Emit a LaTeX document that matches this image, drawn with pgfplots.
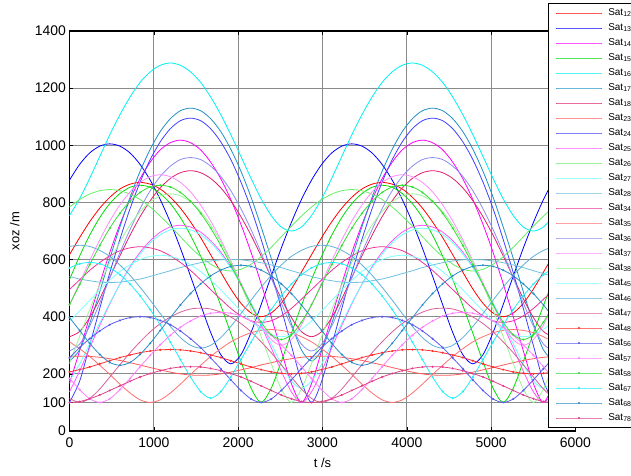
\documentclass[border=0pt]{standalone}
\usepackage{fontspec}
\setmainfont{Liberation Sans}
\usepackage{pgfplots}
\usepackage{pgfplotstable}
\pgfplotsset{compat=1.18}

\definecolor{gridgray}{HTML}{8A8A8A}
\definecolor{c12}{HTML}{FF0000}
\definecolor{c13}{HTML}{0000FF}
\definecolor{c14}{HTML}{FF00FF}
\definecolor{c15}{HTML}{00DD00}
\definecolor{c16}{HTML}{00F0F0}
\definecolor{c17}{HTML}{1E90C8}
\definecolor{c18}{HTML}{E0206E}
\definecolor{c23}{HTML}{FF5A5A}
\definecolor{c24}{HTML}{4040FF}
\definecolor{c25}{HTML}{FF55FF}
\definecolor{c26}{HTML}{66EE66}
\definecolor{c27}{HTML}{66FFFF}
\definecolor{c28}{HTML}{70C0E0}
\definecolor{c34}{HTML}{EE3399}
\definecolor{c35}{HTML}{FF7070}
\definecolor{c36}{HTML}{8C8CF0}
\definecolor{c37}{HTML}{FF8CFF}
\definecolor{c38}{HTML}{99F599}
\definecolor{c45}{HTML}{80FFFF}
\definecolor{c46}{HTML}{5EB0D8}
\definecolor{c47}{HTML}{D8609A}
\definecolor{c48}{HTML}{FF3030}
\definecolor{c56}{HTML}{5A5AF0}
\definecolor{c57}{HTML}{FF80FF}
\definecolor{c58}{HTML}{33DD33}
\definecolor{c67}{HTML}{22EEF8}
\definecolor{c68}{HTML}{2A8CC8}
\definecolor{c78}{HTML}{E0408C}

% one row per pair, one column per sample time (transposed below)
\pgfplotstableread{
name k0 k1 k2 k3 k4 k5 k6 k7 k8 k9 k10 k11 k12 k13 k14 k15 k16 k17 k18 k19 k20 k21 k22 k23 k24 k25 k26 k27 k28 k29 k30 k31 k32 k33 k34 k35 k36 k37 k38 k39 k40 k41 k42 k43 k44 k45 k46 k47 k48
t 0 120 239 359 478 598 718 837 957 1076 1196 1315 1435 1555 1674 1794 1913 2033 2153 2272 2392 2511 2631 2750 2870 2990 3109 3229 3348 3468 3588 3707 3827 3946 4066 4185 4305 4425 4544 4664 4783 4903 5023 5142 5262 5381 5501 5620 5740
s12 617 677 732 780 818 847 864 870 864 847 818 780 732 677 617 556 497 447 413 400 413 447 497 556 617 677 732 780 818 847 864 870 864 847 818 780 732 677 617 556 497 447 413 400 413 447 497 556 617
s13 878 933 973 997 1005 997 973 933 878 810 730 640 542 442 345 267 235 267 345 442 542 640 730 810 878 933 973 997 1005 997 973 933 878 810 730 640 542 442 345 267 235 267 345 442 542 640 730 810 878
s14 166 281 400 516 625 723 810 883 941 984 1009 1018 1009 984 941 883 810 723 625 516 400 281 166 100 166 281 400 516 625 723 810 883 941 984 1009 1018 1009 984 941 883 810 723 625 516 400 281 166 100 166
s15 530 612 685 747 796 831 853 860 853 831 796 747 685 612 530 439 342 243 150 100 150 243 342 439 530 612 685 747 796 831 853 860 853 831 796 747 685 612 530 439 342 243 150 100 150 243 342 439 530
s16 754 813 884 961 1037 1107 1169 1220 1257 1280 1288 1280 1257 1220 1169 1107 1037 961 884 813 754 714 700 714 754 813 884 961 1037 1107 1169 1220 1257 1280 1288 1280 1257 1220 1169 1107 1037 961 884 813 754 714 700 714 754
s17 245 284 376 488 604 715 818 909 986 1048 1093 1121 1130 1121 1093 1048 986 909 818 715 604 488 376 284 245 284 376 488 604 715 818 909 986 1048 1093 1121 1130 1121 1093 1048 986 909 818 715 604 488 376 284 245
s18 330 348 397 463 538 613 685 750 806 851 884 904 911 904 884 851 806 750 685 613 538 463 397 348 330 348 397 463 538 613 685 750 806 851 884 904 911 904 884 851 806 750 685 613 538 463 397 348 330
s23 261 262 261 258 253 247 239 231 222 214 206 200 196 195 196 200 206 214 222 231 239 247 253 258 261 262 261 258 253 247 239 231 222 214 206 200 196 195 196 200 206 214 222 231 239 247 253 258 261
s24 100 174 299 429 554 671 778 871 950 1012 1058 1086 1095 1086 1058 1012 950 871 778 671 554 429 299 174 100 174 299 429 554 671 778 871 950 1012 1058 1086 1095 1086 1058 1012 950 871 778 671 554 429 299 174 100
s25 137 210 291 370 445 514 575 626 666 696 714 720 714 696 666 626 575 514 445 370 291 210 137 100 137 210 291 370 445 514 575 626 666 696 714 720 714 696 666 626 575 514 445 370 291 210 137 100 137
s26 784 810 829 841 845 841 829 810 784 752 717 680 643 610 584 566 560 566 584 610 643 680 717 752 784 810 829 841 845 841 829 810 784 752 717 680 643 610 584 566 560 566 584 610 643 680 717 752 784
s27 175 234 305 378 448 513 571 619 659 687 704 710 704 687 659 619 571 513 448 378 305 234 175 150 175 234 305 378 448 513 571 619 659 687 704 710 704 687 659 619 571 513 448 378 305 234 175 150 175
s28 541 532 526 521 520 521 526 532 541 551 561 572 581 589 595 599 600 599 595 589 581 572 561 551 541 532 526 521 520 521 526 532 541 551 561 572 581 589 595 599 600 599 595 589 581 572 561 551 541
s34 495 529 562 590 613 631 641 645 641 631 613 590 562 529 495 461 429 403 386 380 386 403 429 461 495 529 562 590 613 631 641 645 641 631 613 590 562 529 495 461 429 403 386 380 386 403 429 461 495
s35 312 288 261 230 198 164 133 109 100 109 133 164 198 230 261 288 312 330 344 352 355 352 344 330 312 288 261 230 198 164 133 109 100 109 133 164 198 230 261 288 312 330 344 352 355 352 344 330 312
s36 280 304 367 448 536 624 705 778 841 891 927 950 957 950 927 891 841 778 705 624 536 448 367 304 280 304 367 448 536 624 705 778 841 891 927 950 957 950 927 891 841 778 705 624 536 448 367 304 280
s37 441 518 596 669 735 791 837 870 890 897 890 870 837 791 735 669 596 518 441 371 320 300 320 371 441 518 596 669 735 791 837 870 890 897 890 870 837 791 735 669 596 518 441 371 320 300 320 371 441
s38 236 331 424 512 591 661 721 768 802 823 830 823 802 768 721 661 591 512 424 331 236 147 100 147 236 331 424 512 591 661 721 768 802 823 830 823 802 768 721 661 591 512 424 331 236 147 100 147 236
s45 385 420 457 494 528 558 582 600 611 615 611 600 582 558 528 494 457 420 385 356 337 330 337 356 385 420 457 494 528 558 582 600 611 615 611 600 582 558 528 494 457 420 385 356 337 330 337 356 385
s46 646 650 646 632 611 581 545 503 458 411 366 327 300 290 300 327 366 411 458 503 545 581 611 632 646 650 646 632 611 581 545 503 458 411 366 327 300 290 300 327 366 411 458 503 545 581 611 632 646
s47 114 100 114 147 189 232 274 312 347 376 399 416 427 430 427 416 399 376 347 312 274 232 189 147 114 100 114 147 189 232 274 312 347 376 399 416 427 430 427 416 399 376 347 312 274 232 189 147 114
s48 207 215 224 235 246 257 266 274 280 284 285 284 280 274 266 257 246 235 224 215 207 202 200 202 207 215 224 235 246 257 266 274 280 284 285 284 280 274 266 257 246 235 224 215 207 202 200 202 207
s56 256 292 323 350 372 387 397 400 397 387 372 350 323 292 256 218 179 142 112 100 112 142 179 218 256 292 323 350 372 387 397 400 397 387 372 350 323 292 256 218 179 142 112 100 112 142 179 218 256
s57 184 145 113 100 113 145 184 225 265 302 335 363 385 402 412 415 412 402 385 363 335 302 265 225 184 145 113 100 113 145 184 225 265 302 335 363 385 402 412 415 412 402 385 363 335 302 265 225 184
s58 442 512 582 649 710 762 804 835 854 860 854 835 804 762 710 649 582 512 442 381 337 320 337 381 442 512 582 649 710 762 804 835 854 860 854 835 804 762 710 649 582 512 442 381 337 320 337 381 442
s67 571 585 590 585 571 547 514 473 425 371 311 250 189 138 115 138 189 250 311 371 425 473 514 547 571 585 590 585 571 547 514 473 425 371 311 250 189 138 115 138 189 250 311 371 425 473 514 547 571
s68 397 352 307 268 240 230 240 268 307 352 397 441 481 515 543 563 576 580 576 563 543 515 481 441 397 352 307 268 240 230 240 268 307 352 397 441 481 515 543 563 576 580 576 563 543 515 481 441 397
s78 100 103 113 126 142 158 174 189 201 211 219 224 225 224 219 211 201 189 174 158 142 126 113 103 100 103 113 126 142 158 174 189 201 211 219 224 225 224 219 211 201 189 174 158 142 126 113 103 100
}\rawdata
\pgfplotstabletranspose[colnames from=name]\data\rawdata

\begin{document}
\begin{tikzpicture}
\begin{axis}[
  scale only axis, width=506bp, height=400bp,
  xmin=0, xmax=6000, ymin=0, ymax=1400,
  xtick={0,1000,...,6000},
  ytick={0,100,200,400,600,800,1000,1200,1400},
  grid=major, major grid style={line width=0.9bp, color=gridgray},
  axis line style={line width=1.1bp, black},
  tick align=inside, major tick length=4bp, tick style={black, line width=0.6bp},
  ticklabel style={font=\fontsize{14}{16}\selectfont},
  xticklabel style={yshift=-3bp},
  /pgf/number format/assume math mode=true,
  /pgf/number format/1000 sep={},
  xlabel={t /s}, ylabel={xoz /m},
  label style={font=\fontsize{13}{15}\selectfont},
  xlabel style={at={(axis description cs:0.5,-0.08)}, anchor=center},
  ylabel style={at={(axis description cs:-0.108,0.5)}, anchor=center},
  legend style={at={(axis description cs:0.9457,1.07)}, anchor=north west,
    draw=black, line width=1bp, fill=white, font=\fontsize{10}{11}\selectfont,
    inner xsep=7bp, inner ysep=2bp, row sep=0bp, column sep=4bp,
    cells={anchor=west},
    nodes={text height=7.5bp, text depth=3bp, inner ysep=2.25bp}},
  legend image code/.code={\draw[mark repeat=2,mark phase=2,#1] plot coordinates {(0bp,0bp) (23bp,0bp) (46bp,0bp)};},
  every axis plot/.append style={line width=0.8bp, smooth},
  dotted/.style={mark=*, mark size=0.6bp, mark options={solid}},
]
\addplot[c12] table[x=t,y=s12]{\data}; \addlegendentry{Sat\textsubscript{12}}
\addplot[c13] table[x=t,y=s13]{\data}; \addlegendentry{Sat\textsubscript{13}}
\addplot[c14] table[x=t,y=s14]{\data}; \addlegendentry{Sat\textsubscript{14}}
\addplot[c15] table[x=t,y=s15]{\data}; \addlegendentry{Sat\textsubscript{15}}
\addplot[c16] table[x=t,y=s16]{\data}; \addlegendentry{Sat\textsubscript{16}}
\addplot[c17] table[x=t,y=s17]{\data}; \addlegendentry{Sat\textsubscript{17}}
\addplot[c18] table[x=t,y=s18]{\data}; \addlegendentry{Sat\textsubscript{18}}
\addplot[c23] table[x=t,y=s23]{\data}; \addlegendentry{Sat\textsubscript{23}}
\addplot[c24] table[x=t,y=s24]{\data}; \addlegendentry{Sat\textsubscript{24}}
\addplot[c25] table[x=t,y=s25]{\data}; \addlegendentry{Sat\textsubscript{25}}
\addplot[c26] table[x=t,y=s26]{\data}; \addlegendentry{Sat\textsubscript{26}}
\addplot[c27] table[x=t,y=s27]{\data}; \addlegendentry{Sat\textsubscript{27}}
\addplot[c28] table[x=t,y=s28]{\data}; \addlegendentry{Sat\textsubscript{28}}
\addplot[c34] table[x=t,y=s34]{\data}; \addlegendentry{Sat\textsubscript{34}}
\addplot[c35] table[x=t,y=s35]{\data}; \addlegendentry{Sat\textsubscript{35}}
\addplot[c36] table[x=t,y=s36]{\data}; \addlegendentry{Sat\textsubscript{36}}
\addplot[c37] table[x=t,y=s37]{\data}; \addlegendentry{Sat\textsubscript{37}}
\addplot[c38] table[x=t,y=s38]{\data}; \addlegendentry{Sat\textsubscript{38}}
\addplot[c45] table[x=t,y=s45]{\data}; \addlegendentry{Sat\textsubscript{45}}
\addplot[c46] table[x=t,y=s46]{\data}; \addlegendentry{Sat\textsubscript{46}}
\addplot[c47] table[x=t,y=s47]{\data}; \addlegendentry{Sat\textsubscript{47}}
\addplot[c48,dotted] table[x=t,y=s48]{\data}; \addlegendentry{Sat\textsubscript{48}}
\addplot[c56,dotted] table[x=t,y=s56]{\data}; \addlegendentry{Sat\textsubscript{56}}
\addplot[c57,dotted] table[x=t,y=s57]{\data}; \addlegendentry{Sat\textsubscript{57}}
\addplot[c58,dotted] table[x=t,y=s58]{\data}; \addlegendentry{Sat\textsubscript{58}}
\addplot[c67,dotted] table[x=t,y=s67]{\data}; \addlegendentry{Sat\textsubscript{67}}
\addplot[c68,dotted] table[x=t,y=s68]{\data}; \addlegendentry{Sat\textsubscript{68}}
\addplot[c78,dotted] table[x=t,y=s78]{\data}; \addlegendentry{Sat\textsubscript{78}}
\end{axis}
\pgfresetboundingbox
\path[use as bounding box] (-69.5bp,-45bp) rectangle (561.5bp,431bp);
\end{tikzpicture}
\end{document}
